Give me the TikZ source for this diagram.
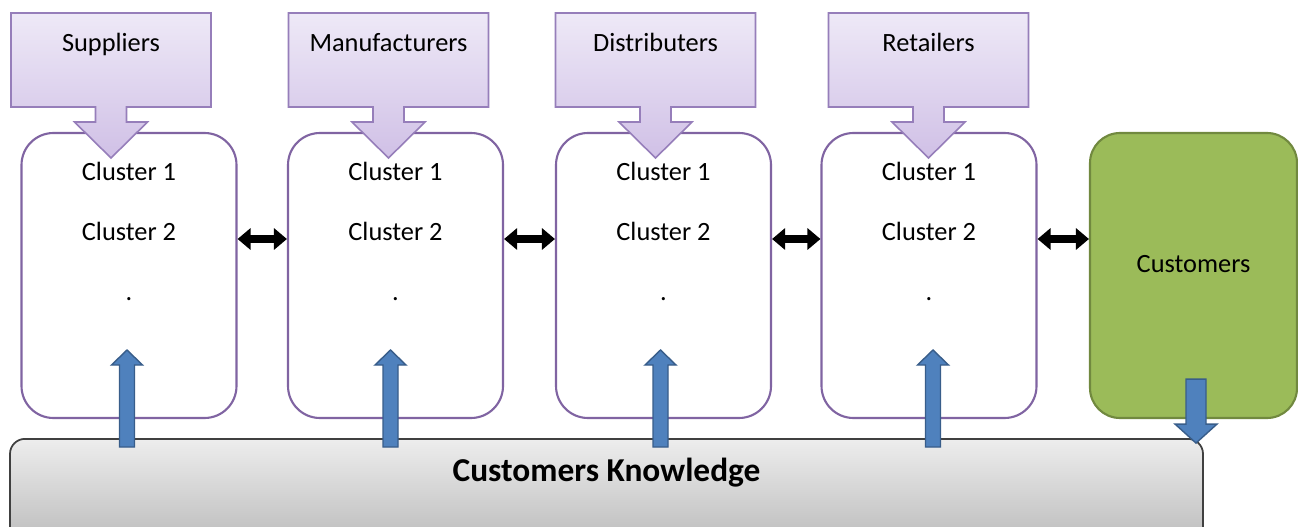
\documentclass[tikz,border=0pt]{standalone}
\usepackage{fontspec}
\setmainfont{Carlito}
\usetikzlibrary{positioning}
\usetikzlibrary{arrows.meta}

\definecolor{lilac}{RGB}{128,100,162}
\definecolor{lilacedge}{RGB}{150,126,186}
\definecolor{lilactop}{RGB}{238,233,247}
\definecolor{lilacbot}{RGB}{208,192,230}
\definecolor{leaf}{RGB}{155,187,89}
\definecolor{leafedge}{RGB}{113,137,63}
\definecolor{steel}{RGB}{79,129,189}
\definecolor{steeledge}{RGB}{56,93,138}

\begin{document}
\begin{tikzpicture}[
	cluster/.style={draw=lilac, fill=white, line width=1.2pt, rounded corners=0.64cm, minimum width=4.3cm, minimum height=5.7cm, inner sep=0pt},
	members/.style={align=center, inner sep=0pt, font=\fontsize{15}{34}\selectfont},
	callout/.style={draw=lilacedge, line width=0.9pt, top color=lilactop, bottom color=lilacbot},
	role/.style={inner sep=0pt, font=\fontsize{15}{18}\selectfont},
	link/.style={line width=0.17cm, {Triangle[width=0.42cm,length=0.26cm]}-{Triangle[width=0.42cm,length=0.26cm]}},
	upflow/.style={draw=steeledge, fill=steel, line width=0.8pt},
]
	% Fill background and fix the frame
	\fill[white] (0,0) rectangle (25.96,-10.54);
	\clip (0,0) rectangle (25.96,-10.54);

	% Cluster boxes of the four stages (c1..c4) and their contents (m1..m4)
	\foreach \x/\i in {2.58/1, 7.91/2, 13.27/3, 18.58/4} {
		\node[cluster] (c\i) at (\x,-5.51) {};
		\node[members, below=0.6cm of c\i.north] (m\i) {Cluster 1\\Cluster 2\\.};
	}

	% Customers box on the right side
	\node[draw=leafedge, fill=leaf, line width=1.2pt, rounded corners=0.6cm, minimum width=4.14cm, minimum height=5.7cm, text depth=0.46cm, font=\fontsize{15}{18}\selectfont] (cust) at (23.87,-5.51) {Customers};

	% Stage boxes with their arrow pointing down into the clusters
	\foreach \x/\name/\txt in {2.22/sup/Suppliers, 7.77/man/Manufacturers, 13.11/dis/Distributers, 18.57/ret/Retailers} {
		\draw[callout] (\x-2,-0.26) -- (\x+2,-0.26) -- (\x+2,-2.14) -- (\x+0.31,-2.14) -- (\x+0.31,-2.44) -- (\x+0.73,-2.44) -- (\x,-3.16)
			-- (\x-0.73,-2.44) -- (\x-0.31,-2.44) -- (\x-0.31,-2.14) -- (\x-2,-2.14) -- cycle;
		\node[role, anchor=base] (\name) at (\x,-1.04) {\txt};
	}

	% Links between neighbouring boxes
	\foreach \a/\b in {c1/c2, c2/c3, c3/c4, c4/cust}
		\draw[link] ([yshift=0.73cm]\a.east) -- ([yshift=0.73cm]\b.west);

	% Knowledge bar at the bottom (runs off the lower edge)
	\node[draw=black!75, line width=1pt, rounded corners=0.3cm, top color=black!7, bottom color=black!26, minimum width=23.86cm, inner sep=0pt, text height=0.86cm, text depth=1.2cm, anchor=north, font=\fontsize{19}{22}\selectfont\bfseries] (know) at (12.13,-8.76) {Customers Knowledge};

	% Knowledge flows up into every cluster box
	\foreach \i/\dx in {1/-0.04, 2/-0.1, 3/-0.06, 4/0.08} {
		\coordinate (u\i) at ([xshift=\dx cm,yshift=-0.18cm]c\i.south |- know.north);
		\draw[upflow] (u\i) ++(-0.15,0) -- ++(0,1.64) -- ++(-0.16,0) -- ++(0.31,0.3) -- ++(0.31,-0.3) -- ++(-0.16,0) -- ++(0,-1.64) -- cycle;
	}

	% Customers feed the knowledge bar
	\coordinate (d) at ([xshift=0.05cm,yshift=0.8cm]cust.south);
	\draw[upflow] (d) ++(-0.2,0) -- ++(0,-0.9) -- ++(-0.22,0) -- ++(0.42,-0.38) -- ++(0.42,0.38) -- ++(-0.22,0) -- ++(0,0.9) -- cycle;
\end{tikzpicture}
\end{document}
